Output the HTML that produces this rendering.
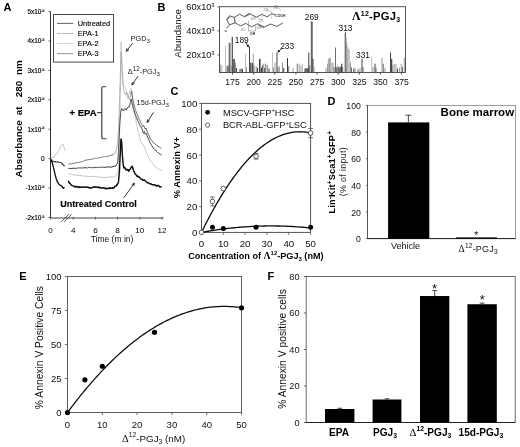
<!DOCTYPE html>
<html><head><meta charset="utf-8"><title>Figure</title>
<style>html,body{margin:0;padding:0;background:#fff;}svg{display:block;font-family:"Liberation Sans",sans-serif;}text{font-family:"Liberation Sans",sans-serif;}</style></head><body>
<svg width="520" height="447" viewBox="0 0 520 447">
<rect x="0" y="0" width="520" height="447" fill="#fff"/>
<defs><filter id="soft" x="-2%" y="-2%" width="104%" height="104%"><feGaussianBlur stdDeviation="0.32"/></filter></defs>
<g id="fig" filter="url(#soft)">
<g id="panelA">
<text x="3.4" y="11" font-size="11" text-anchor="start" font-weight="bold" fill="#000" >A</text>
<line x1="50.5" y1="11.5" x2="50.5" y2="218" stroke="#333" stroke-width="1" />
<line x1="50.5" y1="218" x2="163.5" y2="218" stroke="#444" stroke-width="1" />
<line x1="61.3" y1="221.8" x2="68.9" y2="214.2" stroke="#333" stroke-width="0.8" />
<line x1="64.2" y1="221.8" x2="71.6" y2="214.2" stroke="#333" stroke-width="0.8" />
<line x1="48.5" y1="11.5" x2="50.5" y2="11.5" stroke="#333" stroke-width="0.8" />
<text x="44.6" y="13.9" font-size="6.4" text-anchor="end" font-weight="normal" fill="#000" stroke="#000" stroke-width="0.15">5x10<tspan font-size="3.6" dy="-2.2">-5</tspan></text>
<line x1="48.5" y1="40.93" x2="50.5" y2="40.93" stroke="#333" stroke-width="0.8" />
<text x="44.6" y="43.33" font-size="6.4" text-anchor="end" font-weight="normal" fill="#000" stroke="#000" stroke-width="0.15">4x10<tspan font-size="3.6" dy="-2.2">-5</tspan></text>
<line x1="48.5" y1="70.36" x2="50.5" y2="70.36" stroke="#333" stroke-width="0.8" />
<text x="44.6" y="72.76" font-size="6.4" text-anchor="end" font-weight="normal" fill="#000" stroke="#000" stroke-width="0.15">3x10<tspan font-size="3.6" dy="-2.2">-5</tspan></text>
<line x1="48.5" y1="99.79" x2="50.5" y2="99.79" stroke="#333" stroke-width="0.8" />
<text x="44.6" y="102.19" font-size="6.4" text-anchor="end" font-weight="normal" fill="#000" stroke="#000" stroke-width="0.15">2x10<tspan font-size="3.6" dy="-2.2">-5</tspan></text>
<line x1="48.5" y1="129.22" x2="50.5" y2="129.22" stroke="#333" stroke-width="0.8" />
<text x="44.6" y="131.62" font-size="6.4" text-anchor="end" font-weight="normal" fill="#000" stroke="#000" stroke-width="0.15">1x10<tspan font-size="3.6" dy="-2.2">-5</tspan></text>
<line x1="48.5" y1="158.65" x2="50.5" y2="158.65" stroke="#333" stroke-width="0.8" />
<text x="44.6" y="161.05" font-size="6.4" text-anchor="end" font-weight="normal" fill="#000" stroke="#000" stroke-width="0.15">0</text>
<line x1="48.5" y1="188.08" x2="50.5" y2="188.08" stroke="#333" stroke-width="0.8" />
<text x="44.6" y="190.48" font-size="6.4" text-anchor="end" font-weight="normal" fill="#000" stroke="#000" stroke-width="0.15">-1x10<tspan font-size="3.6" dy="-2.2">-5</tspan></text>
<line x1="48.5" y1="217.51" x2="50.5" y2="217.51" stroke="#333" stroke-width="0.8" />
<text x="44.6" y="219.91" font-size="6.4" text-anchor="end" font-weight="normal" fill="#000" stroke="#000" stroke-width="0.15">-2x10<tspan font-size="3.6" dy="-2.2">-5</tspan></text>
<line x1="50.6" y1="216.8" x2="50.6" y2="219.6" stroke="#444" stroke-width="0.8" />
<text x="50.6" y="232.8" font-size="8.1" text-anchor="middle" font-weight="normal" fill="#000" >0</text>
<line x1="73.2" y1="216.8" x2="73.2" y2="219.6" stroke="#444" stroke-width="0.8" />
<text x="73.2" y="232.8" font-size="8.1" text-anchor="middle" font-weight="normal" fill="#000" >4</text>
<line x1="95.4" y1="216.8" x2="95.4" y2="219.6" stroke="#444" stroke-width="0.8" />
<text x="95.4" y="232.8" font-size="8.1" text-anchor="middle" font-weight="normal" fill="#000" >6</text>
<line x1="117.6" y1="216.8" x2="117.6" y2="219.6" stroke="#444" stroke-width="0.8" />
<text x="117.6" y="232.8" font-size="8.1" text-anchor="middle" font-weight="normal" fill="#000" >8</text>
<line x1="139.8" y1="216.8" x2="139.8" y2="219.6" stroke="#444" stroke-width="0.8" />
<text x="139.8" y="232.8" font-size="8.1" text-anchor="middle" font-weight="normal" fill="#000" >10</text>
<line x1="162" y1="216.8" x2="162" y2="219.6" stroke="#444" stroke-width="0.8" />
<text x="162" y="232.8" font-size="8.1" text-anchor="middle" font-weight="normal" fill="#000" >12</text>
<text x="112" y="242.4" font-size="8.5" text-anchor="middle" font-weight="normal" fill="#111" >Time (m in)</text>
<text transform="translate(22 177.4) rotate(-90)" font-size="9.9" font-weight="bold" fill="#000">Absorbance</text>
<text transform="translate(22 115.3) rotate(-90)" font-size="9.9" font-weight="bold" fill="#000">at</text>
<text transform="translate(22 97.2) rotate(-90)" font-size="9.9" font-weight="bold" fill="#000">280</text>
<text transform="translate(22 75) rotate(-90)" font-size="9.9" font-weight="bold" fill="#000">nm</text>
<rect x="53.5" y="14.5" width="60" height="47.6" fill="#fff" stroke="#484848" stroke-width="1"/>
<line x1="57" y1="23.4" x2="73.3" y2="23.4" stroke="#3a3a3a" stroke-width="0.8" />
<text x="77.7" y="26.1" font-size="7.4" text-anchor="start" font-weight="normal" fill="#000" stroke="#000" stroke-width="0.12">Untreated</text>
<line x1="57" y1="33.47" x2="73.3" y2="33.47" stroke="#a8a8a8" stroke-width="0.8" />
<text x="77.7" y="36.17" font-size="7.4" text-anchor="start" font-weight="normal" fill="#000" stroke="#000" stroke-width="0.12">EPA-1</text>
<line x1="57" y1="43.54" x2="73.3" y2="43.54" stroke="#c8c8c8" stroke-width="0.8" />
<text x="77.7" y="46.24" font-size="7.4" text-anchor="start" font-weight="normal" fill="#000" stroke="#000" stroke-width="0.12">EPA-2</text>
<line x1="57" y1="53.61" x2="73.3" y2="53.61" stroke="#7a7a7a" stroke-width="0.8" />
<text x="77.7" y="56.31" font-size="7.4" text-anchor="start" font-weight="normal" fill="#000" stroke="#000" stroke-width="0.12">EPA-3</text>
<polyline points="51,157.93 52,157.56 53,157.46 54,156.53 55,156.01 55.67,155.08 56.33,154.09 57,153.4 57.5,152.36 58,151.67 58.5,150.68 59,149.84 59.5,148.97 60,148.13 60.5,146.85 61,145.89 61.6,145.35 62.2,144.78 62.8,143.93 63.6,145.49 63.83,146.56 64.07,147.45 64.3,148.54 64.65,149.62 65,150.8" fill="none" stroke="#b4b4b4" stroke-width="0.8" stroke-linejoin="round" />
<polyline points="51,159.25 51.75,160.08 52.5,161.07 54,161.82 55,161.58 56,162.06 57,162 58,161.71 59,162.33 60,162.49 61,162.84 62,163.29 62.75,164.38 63.5,164.95 64.5,166.3" fill="none" stroke="#2c2c2c" stroke-width="1.1" stroke-linejoin="round" />
<polyline points="51,159.85 51.4,160.9 51.8,161.63 52.2,162.45 52.4,163.32 52.6,164.05 52.8,164.69 53,165.52 53.2,166.26 53.4,167.09 53.55,167.74 53.7,168.32 53.85,169.18 54,169.66 54.15,170.42 54.3,171.19 54.45,171.73 54.6,172.5 54.77,173.08 54.95,173.92 55.12,174.63 55.3,175.27 55.48,176.03 55.65,176.58 55.83,177.36 56,178.08 56.25,178.73 56.5,179.3 56.75,180.27 57,181.02 57.25,181.31 57.5,182.13 58,182.42 58.5,183.69 59,184.42 59.75,185.04 60.5,185.26 61,185.33 61.5,185.91 62,186.63 62.43,186.82 62.87,187.87 63.3,188.33 63.9,187.69 64.5,187.4" fill="none" stroke="#0c0c0c" stroke-width="1.3" stroke-linejoin="round" />
<polyline points="68.2,173.78 69.15,174.28 70.1,174.11 71.05,174.32 72,174.55 73,174.9 74,174.62 75,174.91 76,175.07 77,175.35 78,175.43 79,175.57 80,175.39 81,175.6 82,175.7 83,176.1 84,176.28 85,176.01 86,176.16 87,176.33 88,176.47 89,176.58 90,176.62 91,176.44 92,176.29 93,176.49 94,176.45 95,176.53 96,176.84 97,176.82 98,176.85 99,177.01 100,177.15 101,176.95 102,177.49 103,177.54 104,177.56 105,177.49 106,177.26 107,177.24 108,177.06 109,177.3 110,176.98 111,176.96 112,177 113,176.96 114,177.02 114.83,176.51 115.67,176.12 116.5,175.83 116.88,174.8 117.25,173.93 117.62,172.76 118,172.06 118.05,171.1 118.1,170.11 118.15,169.21 118.2,168.31 118.25,167.4 118.3,166.44 118.35,165.64 118.4,164.74 118.45,163.74 118.5,162.83 118.55,161.85 118.6,160.94 118.65,160.06 118.7,159.13 118.75,158.3 118.8,157.28 118.85,156.35 118.9,155.57 118.95,154.59 119,153.61 119.05,152.76 119.1,151.76 119.15,150.92 119.2,150.07 119.22,149.15 119.24,148.21 119.25,147.24 119.27,146.34 119.29,145.4 119.31,144.59 119.33,143.64 119.35,142.77 119.36,141.79 119.38,140.87 119.4,140.05 119.42,139.16 119.44,138.23 119.45,137.32 119.47,136.41 119.49,135.49 119.51,134.5 119.53,133.64 119.55,132.71 119.56,131.75 119.58,130.84 119.6,129.97 119.62,129.05 119.64,128.21 119.65,127.34 119.67,126.36 119.69,125.52 119.71,124.62 119.73,123.7 119.75,122.71 119.76,121.78 119.78,120.87 119.8,119.95 119.82,119.05 119.84,118.2 119.85,117.33 119.87,116.41 119.89,115.45 119.91,114.57 119.93,113.68 119.95,112.66 119.96,111.84 119.98,110.97 120,110.04 120.01,109.13 120.03,108.18 120.04,107.22 120.05,106.41 120.07,105.43 120.08,104.59 120.1,103.71 120.11,102.71 120.12,101.8 120.14,100.98 120.15,100.03 120.16,99.04 120.18,98.13 120.19,97.22 120.2,96.42 120.22,95.5 120.23,94.49 120.25,93.69 120.26,92.8 120.27,91.84 120.29,90.89 120.3,90.01 120.31,89.04 120.33,88.11 120.34,87.34 120.35,86.39 120.37,85.46 120.38,84.61 120.4,83.63 120.41,82.78 120.42,81.87 120.44,80.87 120.45,79.96 120.46,79.06 120.48,78.14 120.49,77.29 120.5,76.33 120.52,75.44 120.53,74.49 120.55,73.7 120.56,72.71 120.57,71.81 120.59,70.92 120.6,70.06 120.62,69.08 120.63,68.26 120.65,67.29 120.66,66.39 120.68,65.49 120.7,64.51 120.71,63.67 120.73,62.73 120.75,61.8 120.76,61.01 120.78,60.02 120.79,59.16 120.81,58.29 120.83,57.36 120.84,56.43 120.86,55.55 120.87,54.65 120.89,53.78 120.91,52.78 120.92,51.94 120.94,50.99 120.95,50.1 120.97,49.27 120.99,48.32 121,47.43 121.02,46.56 121.04,45.67 121.05,44.7 121.07,43.82 121.08,42.9 121.1,42 121.13,42.93 121.16,43.79 121.19,44.7 121.22,45.6 121.25,46.57 121.28,47.43 121.31,48.36 121.34,49.27 121.37,50.06 121.4,51.01 121.43,51.97 121.46,52.85 121.49,53.65 121.52,54.54 121.55,55.49 121.58,56.34 121.61,57.26 121.64,58.14 121.67,59.13 121.7,60.04 121.75,61 121.81,61.83 121.86,62.86 121.91,63.79 121.96,64.65 122.02,65.7 122.07,66.66 122.12,67.49 122.18,68.54 122.23,69.4 122.28,70.35 122.34,71.37 122.39,72.29 122.44,73.13 122.49,74.11 122.55,75.06 122.6,75.98 122.68,76.9 122.76,77.87 122.84,78.88 122.92,79.73 123,80.76 123.08,81.69 123.16,82.58 123.24,83.57 123.32,84.57 123.4,85.51 124.6,86.58 125.6,87.47 125.8,88.36 126,89.31 126.2,90.1 126.4,91.04 126.6,91.93 126.74,92.97 126.89,93.82 127.03,94.73 127.17,95.7 127.31,96.7 127.46,97.62 127.6,98.38 127.9,97.45 128.2,96.96 128.5,95.91 128.8,95.03 129.08,94.04 129.36,93.13 129.64,92.33 129.92,91.39 130.2,90.29 130.75,89.57 131.3,88.22 131.48,89.21 131.66,90.06 131.84,91.13 132.02,91.97 132.2,93.05 132.29,93.94 132.39,94.86 132.48,95.84 132.58,96.84 132.67,97.69 132.77,98.61 132.86,99.62 132.96,100.52 133.05,101.44 133.14,102.39 133.24,103.32 133.33,104.29 133.43,105.25 133.52,106.19 133.62,107.21 133.71,108.08 133.81,109.06 133.9,109.95 134.08,110.89 134.25,111.76 134.43,112.71 134.6,113.59 134.78,114.62 134.95,115.51 135.12,116.37 135.3,117.33 135.47,118.32 135.65,119.11 135.82,120.13 136,120.99 136.19,121.92 136.38,122.9 136.58,123.75 136.77,124.69 136.96,125.64 137.15,126.61 137.35,127.44 137.54,128.43 137.73,129.34 137.92,130.25 138.12,131.14 138.31,132.05 138.5,132.93 138.73,133.83 138.97,134.7 139.2,135.69 139.43,136.5 139.67,137.37 139.9,138.24 140.13,139.23 140.37,140.12 140.6,140.98 140.83,141.8 141.07,142.68 141.3,143.5 142.8,143.98 143.28,144.68 143.75,145.67 144.22,146.43 144.7,147.63 145.03,148.58 145.36,149.31 145.69,150.1 146.01,151.4 146.34,152.02 146.67,152.99 147,153.75 147.43,154.87 147.86,155.84 148.29,156.79 148.71,157.56 149.14,158.65 149.57,159.32 150,160.38 150.57,161.05 151.14,161.96 151.71,162.54 152.29,163.29 152.86,164.19 153.43,164.91 154,165.84 154.8,166.4 155.6,167.09 156.4,167.63 157.2,168.24 158,168.91 158.8,169.24 159.65,169.61 160.5,170.34 161.35,170.32 162.2,170.9" fill="none" stroke="#b9b9b9" stroke-width="0.8" stroke-linejoin="round" />
<polyline points="68.2,164.13 69.15,163.99 70.1,163.53 71.05,163.9 72,163.84 73,163.49 74,163.37 75,163.24 76,162.65 77,162.7 78,162.5 78.88,162.46 79.75,162.21 80.62,161.98 81.5,161.6 82.38,161.55 83.25,161.18 84.12,160.95 85,160.44 86,160.09 87,159.92 88,159.83 89,159.45 90,159.66 91,159.26 92,159.08 92.89,158.92 93.78,158.8 94.67,158.53 95.56,158.08 96.44,158.4 97.33,158.22 98.22,157.91 99.11,157.78 100,157.7 100.89,157.18 101.78,157.43 102.67,156.98 103.56,156.72 104.44,156.68 105.33,156.8 106.22,156.33 107.11,156.5 108,156.49 109,155.9 110,155.53 111,155.29 112,155.11 113,154.86 113.83,154.04 114.67,153.32 115.5,152.5" fill="none" stroke="#6e6e6e" stroke-width="0.9" stroke-linejoin="round" />
<polyline points="115.5,152.42 115.74,151.51 115.99,150.6 116.23,149.76 116.47,148.75 116.71,147.87 116.96,146.84 117.2,145.92 117.27,145.06 117.34,144.23 117.41,143.33 117.48,142.43 117.55,141.46 117.62,140.6 117.69,139.69 117.76,138.79 117.83,137.83 117.9,137.07 117.97,136.05 118.04,135.29 118.11,134.38 118.18,133.31 118.25,132.49 118.32,131.66 118.39,130.78 118.46,129.79 118.53,128.86 118.6,127.95 118.63,127.18 118.66,126.14 118.7,125.3 118.73,124.32 118.76,123.49 118.79,122.66 118.83,121.61 118.86,120.83 118.89,119.87 118.92,119.04 118.95,118.1 118.99,117.11 119.02,116.33 119.05,115.35 119.08,114.37 119.12,113.46 119.15,112.64 119.18,111.73 119.21,110.8 119.25,109.87 119.28,109 119.31,108.1 119.34,107.29 119.37,106.23 119.41,105.46 119.44,104.58 119.47,103.54 119.5,102.79 119.54,101.84 119.57,100.98 119.6,99.96 119.63,99.05 119.66,98.12 119.69,97.3 119.71,96.3 119.74,95.33 119.77,94.42 119.8,93.46 119.83,92.49 119.86,91.57 119.89,90.77 119.91,89.75 119.94,88.94 119.97,87.88 120,86.96 120.03,86.07 120.06,85.09 120.09,84.19 120.11,83.37 120.14,82.43 120.17,81.48 120.2,80.52 120.23,79.65 120.26,78.72 120.29,77.72 120.31,76.83 120.34,75.78 120.37,74.97 120.4,73.99 120.43,73.13 120.47,72.19 120.5,71.21 120.53,70.25 120.57,69.49 120.6,68.43 120.63,67.58 120.67,66.64 120.7,65.71 120.73,64.88 120.77,64 120.8,62.96 120.83,62.11 120.87,61.13 120.9,60.26 120.93,59.31 120.97,58.36 121,57.44 121.03,56.53 121.07,55.74 121.1,54.75 121.13,53.78 121.17,52.99 121.2,52.09 121.25,52.92 121.29,53.8 121.34,54.74 121.39,55.66 121.43,56.64 121.48,57.53 121.53,58.49 121.57,59.42 121.62,60.41 121.67,61.4 121.71,62.31 121.76,63.18 121.81,64.12 121.85,65.07 121.9,65.98 121.95,66.87 121.99,67.72 122.04,68.66 122.08,69.68 122.12,70.43 122.17,71.4 122.22,72.32 122.26,73.27 122.31,74.05 122.35,74.96 122.39,75.85 122.44,76.78 122.48,77.69 122.53,78.68 122.58,79.56 122.62,80.47 122.66,81.21 122.71,82.12 122.75,83.14 122.8,84.07 122.96,84.88 123.11,85.79 123.27,86.58 123.42,87.54 123.58,88.52 123.73,89.39 123.89,90.29 124.04,91.2 124.2,91.85 124.67,92.77 125.13,93.79 125.6,95.01 126.07,94.28 126.53,93.6 127,92.54 127.28,93.43 127.56,94.35 127.84,95.19 128.12,96.11 128.4,96.72 128.8,98.17 129.2,98.84 129.6,100.08 129.77,99.03 129.93,97.96 130.1,96.93 130.27,95.96 130.43,95.02 130.6,94.04 130.87,92.93 131.13,91.92 131.4,91" fill="none" stroke="#9c9c9c" stroke-width="0.8" stroke-linejoin="round" />
<polyline points="131.4,91 131.57,92.01 131.73,92.98 131.9,93.95 132.07,95.02 132.23,95.91 132.4,96.96 132.58,97.89 132.76,98.88 132.94,99.73 133.12,100.67 133.3,101.5 133.48,102.35 133.66,103.25 133.84,104.28 134.02,105.14 134.2,105.88 134.51,106.6 134.82,107.78 135.13,108.77 135.44,109.51 135.76,110.3 136.07,111.43 136.38,112.48 136.69,112.95 137,113.72 137.38,114.78 137.75,115.7 138.12,116.73 138.5,117.32 138.88,118.55 139.25,119.39 139.62,120.13 140,120.82 140.43,122.17 140.87,122.65 141.3,123.84 141.73,124.37 142.17,125.25 142.6,126.46 144,125.56 144.25,126.58 144.5,127.4 144.75,128.24 145,129.03 146,127.95 146.35,129.1 146.7,130.27 147.05,130.79 147.4,131.94 147.77,132.68 148.14,134 148.51,134.36 148.89,135.16 149.26,136.02 149.63,137.08 150,138.24 150.6,139.03 151.2,139.74 151.8,140.7 152.4,141.46 153,141.9 153.8,142.53 154.6,143.7 155.4,144.31 156.2,144.6 157,145.7 157.9,146.09 158.8,146.64 159.7,147.18 160.6,147.64 161.5,148.4" fill="none" stroke="#555" stroke-width="0.95" stroke-linejoin="round" />
<polyline points="68.2,168.3 69.17,168.41 70.14,168.4 71.11,168.7 72.09,168.15 73.06,168.59 74.03,168.08 75,168.11 75.91,168.36 76.82,168.32 77.73,168.05 78.64,167.78 79.55,168 80.45,167.91 81.36,168.2 82.27,167.72 83.18,167.79 84.09,168.07 85,167.52 85.91,167.72 86.82,167.93 87.73,167.88 88.64,167.42 89.55,167.38 90.45,167.37 91.36,167.86 92.27,167.44 93.18,167.7 94.09,167.77 95,167.4 95.91,167.34 96.82,167.72 97.73,167.49 98.64,167.25 99.55,167.49 100.45,167.23 101.36,167.17 102.27,166.98 103.18,167.41 104.09,167.48 105,167.28 106,167.42 107,166.81 108,166.89 109,166.99 110,167.22 111,167.17 112,166.78 113,166.65 114,166.42 115,166.13 116,166.06 116.45,164.66 116.9,164.08 117.35,163.09 117.8,162.06 117.86,161.1 117.91,160.13 117.97,159.14 118.02,158.19 118.08,157.25 118.13,156.38 118.19,155.31 118.24,154.39 118.3,153.55 118.36,152.51 118.41,151.53 118.47,150.58 118.52,149.73 118.58,148.75 118.63,147.92 118.69,146.96 118.74,146.03 118.8,144.96 118.84,143.99 118.89,143.06 118.93,142.2 118.97,141.3 119.02,140.32 119.06,139.34 119.1,138.44 119.15,137.54 119.19,136.62 119.23,135.7 119.28,134.78 119.32,133.81 119.37,132.78 119.41,131.97 119.45,130.94 119.5,130.06 119.54,129.09 119.58,128.22 119.63,127.18 119.67,126.26 119.71,125.32 119.76,124.37 119.8,123.57 119.88,122.58 119.95,121.61 120.03,120.69 120.11,119.87 120.18,118.85 120.26,117.87 120.34,117.04 120.42,116.08 120.49,115.21 120.57,114.12 120.65,113.26 120.72,112.39 120.8,111.46 121.07,110.54 121.33,109.45 121.6,108.48 122.4,109.97 123.3,111.01 123.75,110.38 124.2,109.05 125.2,108.46 125.7,108.92 126.2,110.02 127.2,108.37 127.7,107.36 128.2,106.77 129.2,107.28 129.47,106.2 129.73,105.35 130,104.42 130.2,103.35 130.4,102.38 130.6,101.34 130.9,100.25 131.2,99.16 131.4,100.18 131.6,101.15 131.8,102.03 132,102.95 132.2,103.97 132.43,104.95 132.67,105.78 132.9,106.72 133.13,107.61 133.37,108.64 133.6,109.53 133.9,110.11 134.2,111.01 134.5,112.06 134.8,113.03 135.1,113.96 135.4,114.5 135.7,115.42 136,116.62 136.38,117.32 136.75,118.12 137.12,119.01 137.5,120.27 137.88,120.76 138.25,121.79 138.62,122.54 139,123.45 139.5,124.64 140,125.63 140.5,126.17 141,126.98 141.5,128.22 142,128.82 142.35,129.7 142.7,131.24 143.05,131.95 143.4,133.19 143.9,132.19 144.4,131.57 144.67,132.53 144.93,133.51 145.2,134.31 146.2,133.23 146.55,134.23 146.9,135.35 147.25,135.8 147.6,137.07 148,137.89 148.4,138.94 148.8,139.69 149.2,140.74 149.6,141.85 150,143.06 150.5,143.35 151,144.36 151.5,145.33 152,146.21 152.5,146.54 153,147.28 153.67,148.48 154.33,149.22 155,149.64 155.67,150.1 156.33,151.34 157,151.73 157.75,152.59 158.5,152.97 159.25,153.64 160,153.8 160.75,154.72 161.5,155.1" fill="none" stroke="#333" stroke-width="0.95" stroke-linejoin="round" />
<polyline points="68.2,180.69 68.63,181.56 69.07,182.71 69.5,183.36 70,183.32 70.5,184.02 71,184.89 71.67,185.42 72.33,185.67 73,185.79 73.75,186.07 74.5,186.75 75.25,187.09 76,186.3 76.8,186.97 77.6,187.28 78.4,186.59 79.2,187.57 80,186.88 80.71,187.37 81.43,187.27 82.14,187.31 82.86,186.92 83.57,187 84.29,187.13 85,186.92 85.71,187.3 86.43,187.2 87.14,187.32 87.86,186.99 88.57,187.77 89.29,187.76 90,187.61 90.71,188.09 91.43,188.01 92.14,187.55 92.86,187.15 93.57,187.37 94.29,186.87 95,186.79 95.71,187.2 96.43,186.89 97.14,187.35 97.86,187.5 98.57,187.05 99.29,187.78 100,187.24 100.71,188.04 101.43,188.18 102.14,187.97 102.86,187.55 103.57,188.13 104.29,188.08 105,188.8 105.71,187.86 106.43,188.61 107.14,188.72 107.86,188.38 108.57,188.43 109.29,187.71 110,188.53 110.7,187.93 111.4,188.38 112.1,188.28 112.8,187.39 113.5,188.02 114.22,187.7 114.95,186.27 115.68,186.11 116.4,186.08 116.8,184.76 117.2,184.92 117.6,183.57 118,183.51 118.4,182.38 118.47,181.8 118.53,181.24 118.6,180.3 118.67,179.62 118.73,179 118.8,178.24 118.87,177.45 118.93,176.8 119,176.09 119.07,175.64 119.13,174.86 119.2,174.23 119.27,173.29 119.33,172.79 119.4,171.87 119.43,171.29 119.46,170.6 119.5,169.79 119.53,169.24 119.56,168.42 119.59,167.71 119.62,167.09 119.66,166.11 119.69,165.68 119.72,164.84 119.75,164.05 119.78,163.46 119.82,162.56 119.85,162.08 119.88,161.23 119.91,160.43 119.94,159.85 119.98,159.02 120.01,158.21 120.04,157.68 120.07,156.73 120.1,156.27 120.14,155.36 120.17,154.77 120.2,154.16 120.24,153.31 120.28,152.63 120.31,151.8 120.35,150.98 120.39,150.27 120.43,149.6 120.47,149.04 120.5,148.26 120.54,147.58 120.58,146.99 120.62,146.02 120.66,145.34 120.7,144.76 120.73,143.84 120.77,143.12 120.81,142.52 120.85,141.73 120.89,141.1 120.92,140.34 120.96,139.74 121,139.03 121.3,139.9 121.6,141.04 121.64,141.71 121.68,142.32 121.72,143.31 121.76,143.8 121.79,144.5 121.83,145.2 121.87,146.1 121.91,146.9 121.95,147.59 121.99,148.19 122.03,148.87 122.07,149.51 122.11,150.44 122.14,151.13 122.18,151.78 122.22,152.6 122.26,153.26 122.3,154.14 122.36,154.83 122.42,155.42 122.47,156.38 122.53,156.85 122.59,157.76 122.65,158.47 122.71,159.16 122.77,159.85 122.83,160.84 122.88,161.34 122.94,162.27 123,163.15 123.13,163.63 123.27,164.4 123.4,165.29 123.53,166 123.67,166.8 123.8,167.84 124.8,167.44 125.17,168.39 125.53,169.18 125.9,169.7 126.45,170.03 127,169.31 127.53,169.87 128.07,169.72 128.6,171.28 129.07,170.59 129.55,169.71 130.03,169.44 130.5,168.55 131.07,167.63 131.63,166.83 132.2,166.31 132.45,166.82 132.7,167.87 132.95,169.05 133.2,169.71 133.5,170.55 133.8,171.08 134.1,171.26 134.4,172.24 134.7,172.79 135,173.85 135.3,174.23 135.84,174.42 136.38,175.32 136.92,176.15 137.46,175.81 138,177.02 138.6,176.47 139.2,177.14 139.8,177.51 140.4,178.47 141,179.09 141.62,179.32 142.25,179.31 142.88,180.37 143.5,180.21 144.25,180.01 145,180.65 145.5,180.88 146,181.48 146.5,181.98 147.33,182.73 148.17,182.57 149,183.37 149.78,183.57 150.55,184.09 151.32,183.98 152.1,184.65 152.88,184.72 153.66,184.67 154.44,184.8 155.22,185.49 156,185.14 156.75,186.2 157.5,185.51 158.25,185.53 159,185.77 159.83,187.01 160.67,186.7 161.5,187.2" fill="none" stroke="#080808" stroke-width="1.4" stroke-linejoin="round" />
<text x="130.6" y="41" font-size="7.3" text-anchor="start" font-weight="normal" fill="#222" >PGD<tspan font-size="6.2" dy="1.6">3</tspan><tspan dy="-1.6">&#8203;</tspan></text>
<line x1="132.6" y1="43.2" x2="126.3" y2="51.3" stroke="#262626" stroke-width="0.9" />
<line x1="126.3" y1="51.3" x2="126.93" y2="48.37" stroke="#262626" stroke-width="0.9" />
<line x1="126.3" y1="51.3" x2="128.99" y2="49.97" stroke="#262626" stroke-width="0.9" />
<text x="127.8" y="74.2" font-size="7.3" text-anchor="start" font-weight="normal" fill="#222" >&#916;<tspan font-size="6.4" dy="-3.2">12</tspan><tspan dy="3.2">&#8203;</tspan>-PGJ<tspan font-size="6.2" dy="1.6">3</tspan><tspan dy="-1.6">&#8203;</tspan></text>
<line x1="138" y1="76" x2="131.9" y2="85" stroke="#262626" stroke-width="0.9" />
<line x1="131.9" y1="85" x2="132.34" y2="82.03" stroke="#262626" stroke-width="0.9" />
<line x1="131.9" y1="85" x2="134.5" y2="83.5" stroke="#262626" stroke-width="0.9" />
<text x="136.6" y="105.2" font-size="7.3" text-anchor="start" font-weight="normal" fill="#222" >15d-PGJ<tspan font-size="6.2" dy="1.6">3</tspan><tspan dy="-1.6">&#8203;</tspan></text>
<line x1="153.5" y1="112.4" x2="147.1" y2="122.5" stroke="#262626" stroke-width="0.9" />
<line x1="147.1" y1="122.5" x2="147.44" y2="119.52" stroke="#262626" stroke-width="0.9" />
<line x1="147.1" y1="122.5" x2="149.65" y2="120.92" stroke="#262626" stroke-width="0.9" />
<text x="69.6" y="116.2" font-size="9.5" text-anchor="start" font-weight="bold" fill="#000" stroke="#000" stroke-width="0.2">+ EPA</text>
<path d="M106.2,86.7 L103,86.7 Q101.8,86.7 101.8,88 L101.8,137.4 Q101.8,138.7 103,138.7 L106.4,138.7" fill="none" stroke="#3c3c3c" stroke-width="1.15"/>
<line x1="97.2" y1="112.6" x2="101.8" y2="112.6" stroke="#3c3c3c" stroke-width="1.15" />
<text x="60.3" y="206.6" font-size="9" text-anchor="start" font-weight="bold" fill="#000" stroke="#000" stroke-width="0.15">Untreated Control</text>
<line x1="123.8" y1="197.8" x2="134.4" y2="183.2" stroke="#262626" stroke-width="0.9" />
<line x1="134.4" y1="183.2" x2="133.87" y2="186.15" stroke="#262626" stroke-width="0.9" />
<line x1="134.4" y1="183.2" x2="131.76" y2="184.62" stroke="#262626" stroke-width="0.9" />
</g>
<g id="panelB">
<text x="157.5" y="11" font-size="11" text-anchor="start" font-weight="bold" fill="#000" >B</text>
<text transform="translate(181.4 33.5) rotate(-90)" font-size="9.6" text-anchor="middle" font-weight="normal" fill="#111" >Abundance</text>
<text x="214.6" y="10.1" font-size="9.2" text-anchor="end" font-weight="normal" fill="#111" >60x10<tspan font-size="5.8" dy="-3.2">3</tspan></text>
<line x1="217.5" y1="6.8" x2="219.5" y2="6.8" stroke="#333" stroke-width="0.8" />
<text x="214.6" y="34.1" font-size="9.2" text-anchor="end" font-weight="normal" fill="#111" >40x10<tspan font-size="5.8" dy="-3.2">3</tspan></text>
<line x1="217.5" y1="30.8" x2="219.5" y2="30.8" stroke="#333" stroke-width="0.8" />
<text x="214.6" y="58.2" font-size="9.2" text-anchor="end" font-weight="normal" fill="#111" >20x10<tspan font-size="5.8" dy="-3.2">3</tspan></text>
<line x1="217.5" y1="54.9" x2="219.5" y2="54.9" stroke="#333" stroke-width="0.8" />
<line x1="220.75" y1="64.5" x2="220.75" y2="72.5" stroke="#8a8a8a" stroke-width="0.9" />
<line x1="222" y1="65.5" x2="222" y2="72.5" stroke="#b8b8b8" stroke-width="0.9" />
<line x1="225.5" y1="46.25" x2="225.5" y2="72.5" stroke="#b8b8b8" stroke-width="0.9" />
<line x1="227" y1="66.25" x2="227" y2="72.5" stroke="#5e5e5e" stroke-width="0.9" />
<line x1="228" y1="65.5" x2="228" y2="72.5" stroke="#2a2a2a" stroke-width="0.9" />
<line x1="229.25" y1="43" x2="229.25" y2="72.5" stroke="#2a2a2a" stroke-width="0.9" />
<line x1="230" y1="42.5" x2="230" y2="72.5" stroke="#5e5e5e" stroke-width="0.9" />
<line x1="231" y1="65.5" x2="231" y2="72.5" stroke="#8a8a8a" stroke-width="0.9" />
<line x1="232.25" y1="36.75" x2="232.25" y2="72.5" stroke="#111" stroke-width="0.9" />
<line x1="233.25" y1="59" x2="233.25" y2="72.5" stroke="#2a2a2a" stroke-width="0.9" />
<line x1="234" y1="65.5" x2="234" y2="72.5" stroke="#5e5e5e" stroke-width="0.9" />
<line x1="234.5" y1="58.75" x2="234.5" y2="72.5" stroke="#5e5e5e" stroke-width="0.9" />
<line x1="235.5" y1="62.5" x2="235.5" y2="72.5" stroke="#8a8a8a" stroke-width="0.9" />
<line x1="236.5" y1="68" x2="236.5" y2="72.5" stroke="#2a2a2a" stroke-width="0.9" />
<line x1="240" y1="69" x2="240" y2="72.5" stroke="#2a2a2a" stroke-width="0.9" />
<line x1="241.25" y1="68.5" x2="241.25" y2="72.5" stroke="#5e5e5e" stroke-width="0.9" />
<line x1="242.5" y1="69" x2="242.5" y2="72.5" stroke="#2a2a2a" stroke-width="0.9" />
<line x1="245.5" y1="53.75" x2="245.5" y2="72.5" stroke="#b8b8b8" stroke-width="0.9" />
<line x1="246.5" y1="67" x2="246.5" y2="72.5" stroke="#8a8a8a" stroke-width="0.9" />
<line x1="249.5" y1="46.5" x2="249.5" y2="72.5" stroke="#2a2a2a" stroke-width="0.9" />
<line x1="250.25" y1="63" x2="250.25" y2="72.5" stroke="#5e5e5e" stroke-width="0.9" />
<line x1="251" y1="62.5" x2="251" y2="72.5" stroke="#2a2a2a" stroke-width="0.9" />
<line x1="251.75" y1="64" x2="251.75" y2="72.5" stroke="#8a8a8a" stroke-width="0.9" />
<line x1="252.5" y1="63" x2="252.5" y2="72.5" stroke="#2a2a2a" stroke-width="0.9" />
<line x1="253.25" y1="53.75" x2="253.25" y2="72.5" stroke="#8a8a8a" stroke-width="0.9" />
<line x1="254" y1="65.5" x2="254" y2="72.5" stroke="#5e5e5e" stroke-width="0.9" />
<line x1="256.25" y1="66.25" x2="256.25" y2="72.5" stroke="#8a8a8a" stroke-width="0.9" />
<line x1="257.5" y1="68" x2="257.5" y2="72.5" stroke="#2a2a2a" stroke-width="0.9" />
<line x1="259.5" y1="58.75" x2="259.5" y2="72.5" stroke="#2a2a2a" stroke-width="0.9" />
<line x1="260.5" y1="59" x2="260.5" y2="72.5" stroke="#8a8a8a" stroke-width="0.9" />
<line x1="261.5" y1="67.5" x2="261.5" y2="72.5" stroke="#2a2a2a" stroke-width="0.9" />
<line x1="262.5" y1="65" x2="262.5" y2="72.5" stroke="#5e5e5e" stroke-width="0.9" />
<line x1="263.75" y1="63.75" x2="263.75" y2="72.5" stroke="#8a8a8a" stroke-width="0.9" />
<line x1="264.75" y1="68" x2="264.75" y2="72.5" stroke="#2a2a2a" stroke-width="0.9" />
<line x1="265.75" y1="63.75" x2="265.75" y2="72.5" stroke="#5e5e5e" stroke-width="0.9" />
<line x1="267.5" y1="65" x2="267.5" y2="72.5" stroke="#8a8a8a" stroke-width="0.9" />
<line x1="269" y1="68.5" x2="269" y2="72.5" stroke="#2a2a2a" stroke-width="0.9" />
<line x1="272.5" y1="52.5" x2="272.5" y2="72.5" stroke="#b8b8b8" stroke-width="0.9" />
<line x1="273.5" y1="67.5" x2="273.5" y2="72.5" stroke="#8a8a8a" stroke-width="0.9" />
<line x1="275" y1="62.5" x2="275" y2="72.5" stroke="#8a8a8a" stroke-width="0.9" />
<line x1="277" y1="52.5" x2="277" y2="72.5" stroke="#2a2a2a" stroke-width="0.9" />
<line x1="278" y1="67" x2="278" y2="72.5" stroke="#5e5e5e" stroke-width="0.9" />
<line x1="279.25" y1="66.25" x2="279.25" y2="72.5" stroke="#8a8a8a" stroke-width="0.9" />
<line x1="282.5" y1="62.5" x2="282.5" y2="72.5" stroke="#8a8a8a" stroke-width="0.9" />
<line x1="283.75" y1="68" x2="283.75" y2="72.5" stroke="#2a2a2a" stroke-width="0.9" />
<line x1="287.5" y1="58.75" x2="287.5" y2="72.5" stroke="#b8b8b8" stroke-width="0.9" />
<line x1="288.75" y1="66.25" x2="288.75" y2="72.5" stroke="#5e5e5e" stroke-width="0.9" />
<line x1="293" y1="68" x2="293" y2="72.5" stroke="#8a8a8a" stroke-width="0.9" />
<line x1="297.5" y1="63.75" x2="297.5" y2="72.5" stroke="#2a2a2a" stroke-width="0.9" />
<line x1="282.5" y1="63.75" x2="282.5" y2="72.5" stroke="#8a8a8a" stroke-width="0.9" />
<line x1="287.5" y1="58" x2="287.5" y2="72.5" stroke="#2a2a2a" stroke-width="0.9" />
<line x1="297" y1="63.75" x2="297" y2="72.5" stroke="#b8b8b8" stroke-width="0.9" />
<line x1="298" y1="64" x2="298" y2="72.5" stroke="#b8b8b8" stroke-width="0.9" />
<line x1="299.5" y1="63.75" x2="299.5" y2="72.5" stroke="#b8b8b8" stroke-width="0.9" />
<line x1="301" y1="65.5" x2="301" y2="72.5" stroke="#8a8a8a" stroke-width="0.9" />
<line x1="302.5" y1="63.75" x2="302.5" y2="72.5" stroke="#b8b8b8" stroke-width="0.9" />
<line x1="305" y1="68.75" x2="305" y2="72.5" stroke="#2a2a2a" stroke-width="0.9" />
<line x1="306" y1="68" x2="306" y2="72.5" stroke="#111" stroke-width="0.9" />
<line x1="307" y1="68.75" x2="307" y2="72.5" stroke="#2a2a2a" stroke-width="0.9" />
<line x1="308" y1="68" x2="308" y2="72.5" stroke="#111" stroke-width="0.9" />
<line x1="308.75" y1="52.5" x2="308.75" y2="72.5" stroke="#2a2a2a" stroke-width="0.9" />
<line x1="309.75" y1="65.5" x2="309.75" y2="72.5" stroke="#5e5e5e" stroke-width="0.9" />
<line x1="311.25" y1="22" x2="311.25" y2="72.5" stroke="#6a6a6a" stroke-width="0.9" />
<line x1="311.75" y1="21.25" x2="311.75" y2="72.5" stroke="#4a4a4a" stroke-width="0.9" />
<line x1="312.25" y1="22" x2="312.25" y2="72.5" stroke="#6a6a6a" stroke-width="0.9" />
<line x1="313" y1="58.75" x2="313" y2="72.5" stroke="#2a2a2a" stroke-width="0.9" />
<line x1="314" y1="67" x2="314" y2="72.5" stroke="#8a8a8a" stroke-width="0.9" />
<line x1="326" y1="68" x2="326" y2="72.5" stroke="#8a8a8a" stroke-width="0.9" />
<line x1="327.5" y1="63.75" x2="327.5" y2="72.5" stroke="#8a8a8a" stroke-width="0.9" />
<line x1="328.25" y1="60" x2="328.25" y2="72.5" stroke="#b8b8b8" stroke-width="0.9" />
<line x1="329" y1="58" x2="329" y2="72.5" stroke="#8a8a8a" stroke-width="0.9" />
<line x1="330" y1="58" x2="330" y2="72.5" stroke="#5e5e5e" stroke-width="0.9" />
<line x1="331" y1="64.5" x2="331" y2="72.5" stroke="#b8b8b8" stroke-width="0.9" />
<line x1="331.75" y1="62.5" x2="331.75" y2="72.5" stroke="#b8b8b8" stroke-width="0.9" />
<line x1="333" y1="62.5" x2="333" y2="72.5" stroke="#8a8a8a" stroke-width="0.9" />
<line x1="334" y1="67" x2="334" y2="72.5" stroke="#5e5e5e" stroke-width="0.9" />
<line x1="335.5" y1="47.5" x2="335.5" y2="72.5" stroke="#5e5e5e" stroke-width="0.9" />
<line x1="336.25" y1="67.5" x2="336.25" y2="72.5" stroke="#2a2a2a" stroke-width="0.9" />
<line x1="337.25" y1="65.5" x2="337.25" y2="72.5" stroke="#8a8a8a" stroke-width="0.9" />
<line x1="338.25" y1="67" x2="338.25" y2="72.5" stroke="#2a2a2a" stroke-width="0.9" />
<line x1="339.25" y1="67.5" x2="339.25" y2="72.5" stroke="#5e5e5e" stroke-width="0.9" />
<line x1="340.25" y1="66.5" x2="340.25" y2="72.5" stroke="#2a2a2a" stroke-width="0.9" />
<line x1="341.25" y1="67.5" x2="341.25" y2="72.5" stroke="#5e5e5e" stroke-width="0.9" />
<line x1="341.75" y1="63.75" x2="341.75" y2="72.5" stroke="#111" stroke-width="0.9" />
<line x1="342.75" y1="67" x2="342.75" y2="72.5" stroke="#5e5e5e" stroke-width="0.9" />
<line x1="345" y1="33" x2="345" y2="72.5" stroke="#8a8a8a" stroke-width="0.9" />
<line x1="345.5" y1="31.75" x2="345.5" y2="72.5" stroke="#5e5e5e" stroke-width="0.9" />
<line x1="346" y1="37.5" x2="346" y2="72.5" stroke="#8a8a8a" stroke-width="0.9" />
<line x1="346.75" y1="42.5" x2="346.75" y2="72.5" stroke="#8a8a8a" stroke-width="0.9" />
<line x1="347.5" y1="47" x2="347.5" y2="72.5" stroke="#b8b8b8" stroke-width="0.9" />
<line x1="348" y1="48.75" x2="348" y2="72.5" stroke="#b8b8b8" stroke-width="0.9" />
<line x1="348.75" y1="50" x2="348.75" y2="72.5" stroke="#b8b8b8" stroke-width="0.9" />
<line x1="349.25" y1="48.75" x2="349.25" y2="72.5" stroke="#b8b8b8" stroke-width="0.9" />
<line x1="350.5" y1="62.5" x2="350.5" y2="72.5" stroke="#8a8a8a" stroke-width="0.9" />
<line x1="351.5" y1="67.5" x2="351.5" y2="72.5" stroke="#5e5e5e" stroke-width="0.9" />
<line x1="353.75" y1="68.75" x2="353.75" y2="72.5" stroke="#2a2a2a" stroke-width="0.9" />
<line x1="355" y1="67.5" x2="355" y2="72.5" stroke="#8a8a8a" stroke-width="0.9" />
<line x1="358" y1="69.5" x2="358" y2="72.5" stroke="#2a2a2a" stroke-width="0.9" />
<line x1="360" y1="68" x2="360" y2="72.5" stroke="#8a8a8a" stroke-width="0.9" />
<line x1="362" y1="58.75" x2="362" y2="72.5" stroke="#2a2a2a" stroke-width="0.9" />
<line x1="363" y1="67" x2="363" y2="72.5" stroke="#5e5e5e" stroke-width="0.9" />
<line x1="371.75" y1="58" x2="371.75" y2="72.5" stroke="#b8b8b8" stroke-width="0.9" />
<line x1="373" y1="67" x2="373" y2="72.5" stroke="#8a8a8a" stroke-width="0.9" />
<line x1="375" y1="63.75" x2="375" y2="72.5" stroke="#2a2a2a" stroke-width="0.9" />
<line x1="376" y1="67.5" x2="376" y2="72.5" stroke="#5e5e5e" stroke-width="0.9" />
<line x1="382" y1="58" x2="382" y2="72.5" stroke="#8a8a8a" stroke-width="0.9" />
<line x1="383.25" y1="63.75" x2="383.25" y2="72.5" stroke="#5e5e5e" stroke-width="0.9" />
<line x1="385" y1="68" x2="385" y2="72.5" stroke="#8a8a8a" stroke-width="0.9" />
<line x1="390.5" y1="52.5" x2="390.5" y2="72.5" stroke="#2a2a2a" stroke-width="0.9" />
<line x1="391.25" y1="60" x2="391.25" y2="72.5" stroke="#5e5e5e" stroke-width="0.9" />
<line x1="391.75" y1="58.75" x2="391.75" y2="72.5" stroke="#2a2a2a" stroke-width="0.9" />
<line x1="392.75" y1="65.5" x2="392.75" y2="72.5" stroke="#8a8a8a" stroke-width="0.9" />
<line x1="393.75" y1="63.75" x2="393.75" y2="72.5" stroke="#b8b8b8" stroke-width="0.9" />
<line x1="394.5" y1="64" x2="394.5" y2="72.5" stroke="#b8b8b8" stroke-width="0.9" />
<line x1="395.25" y1="63.75" x2="395.25" y2="72.5" stroke="#b8b8b8" stroke-width="0.9" />
<line x1="396.25" y1="64" x2="396.25" y2="72.5" stroke="#b8b8b8" stroke-width="0.9" />
<line x1="397.5" y1="68.75" x2="397.5" y2="72.5" stroke="#2a2a2a" stroke-width="0.9" />
<line x1="399.5" y1="68" x2="399.5" y2="72.5" stroke="#8a8a8a" stroke-width="0.9" />
<line x1="401.25" y1="63.75" x2="401.25" y2="72.5" stroke="#8a8a8a" stroke-width="0.9" />
<line x1="402.5" y1="67" x2="402.5" y2="72.5" stroke="#5e5e5e" stroke-width="0.9" />
<line x1="404.25" y1="58" x2="404.25" y2="72.5" stroke="#8a8a8a" stroke-width="0.9" />
<rect x="219.5" y="6.7" width="186" height="65.8" fill="none" stroke="#4a4a4a" stroke-width="0.95"/>
<line x1="232.5" y1="72.5" x2="232.5" y2="74.7" stroke="#333" stroke-width="0.8" />
<text x="232.5" y="85.2" font-size="8.6" text-anchor="middle" font-weight="normal" fill="#111" >175</text>
<line x1="253.64" y1="72.5" x2="253.64" y2="74.7" stroke="#333" stroke-width="0.8" />
<text x="253.64" y="85.2" font-size="8.6" text-anchor="middle" font-weight="normal" fill="#111" >200</text>
<line x1="274.77" y1="72.5" x2="274.77" y2="74.7" stroke="#333" stroke-width="0.8" />
<text x="274.77" y="85.2" font-size="8.6" text-anchor="middle" font-weight="normal" fill="#111" >225</text>
<line x1="295.91" y1="72.5" x2="295.91" y2="74.7" stroke="#333" stroke-width="0.8" />
<text x="295.91" y="85.2" font-size="8.6" text-anchor="middle" font-weight="normal" fill="#111" >250</text>
<line x1="317.05" y1="72.5" x2="317.05" y2="74.7" stroke="#333" stroke-width="0.8" />
<text x="317.05" y="85.2" font-size="8.6" text-anchor="middle" font-weight="normal" fill="#111" >275</text>
<line x1="338.19" y1="72.5" x2="338.19" y2="74.7" stroke="#333" stroke-width="0.8" />
<text x="338.19" y="85.2" font-size="8.6" text-anchor="middle" font-weight="normal" fill="#111" >300</text>
<line x1="359.32" y1="72.5" x2="359.32" y2="74.7" stroke="#333" stroke-width="0.8" />
<text x="359.32" y="85.2" font-size="8.6" text-anchor="middle" font-weight="normal" fill="#111" >325</text>
<line x1="380.46" y1="72.5" x2="380.46" y2="74.7" stroke="#333" stroke-width="0.8" />
<text x="380.46" y="85.2" font-size="8.6" text-anchor="middle" font-weight="normal" fill="#111" >350</text>
<line x1="401.6" y1="72.5" x2="401.6" y2="74.7" stroke="#333" stroke-width="0.8" />
<text x="401.6" y="85.2" font-size="8.6" text-anchor="middle" font-weight="normal" fill="#111" >375</text>
<text x="241.8" y="43" font-size="8.4" text-anchor="middle" font-weight="normal" fill="#111" >189</text>
<text x="287.2" y="48.8" font-size="8.4" text-anchor="middle" font-weight="normal" fill="#111" >233</text>
<text x="311.8" y="20" font-size="8.4" text-anchor="middle" font-weight="normal" fill="#111" >269</text>
<text x="345.5" y="31.3" font-size="8.4" text-anchor="middle" font-weight="normal" fill="#111" >313</text>
<text x="363" y="57.5" font-size="8.4" text-anchor="middle" font-weight="normal" fill="#111" >331</text>
<line x1="245.6" y1="42" x2="248.4" y2="46.6" stroke="#111" stroke-width="0.8" />
<path d="M248.9,47.4 l-2.6,-1.4 l2.2,-1.4 z" fill="#111"/>
<line x1="282.2" y1="48" x2="278.2" y2="51.8" stroke="#111" stroke-width="0.8" />
<path d="M277.4,52.6 l0.9,-2.9 l1.9,2 z" fill="#111"/>
<text x="351.9" y="19.8" font-size="11.2" text-anchor="start" font-weight="bold" fill="#000" letter-spacing="0.25"><tspan font-family="Liberation Serif" font-size="12">&#923;</tspan><tspan font-size="7" dy="-4.2">12</tspan><tspan dy="4.2">&#8203;</tspan>-PGJ<tspan font-size="7" dy="2.2">3</tspan><tspan dy="-2.2">&#8203;</tspan></text>
<polyline points="226.5,19.7 229.6,15.8 234.2,17.4 235,22.8 229.6,24.8 226.5,19.7" fill="none" stroke="#3c3c3c" stroke-width="0.85" stroke-linejoin="round" />
<line x1="227.6" y1="19.6" x2="230" y2="16.8" stroke="#3c3c3c" stroke-width="0.7" />
<line x1="229.6" y1="24.8" x2="226.2" y2="28.6" stroke="#3c3c3c" stroke-width="0.85" />
<text x="224.4" y="31.6" font-size="3.8" text-anchor="start" font-weight="bold" fill="#333" >o</text>
<polyline points="234.2,17.4 239.5,14.2 244.5,16.8 250.2,14 256.5,17.2 261.8,14.4 267.2,16.8 271.6,13.6 275.5,15" fill="none" stroke="#3c3c3c" stroke-width="0.85" stroke-linejoin="round" />
<line x1="245" y1="15.8" x2="250" y2="13.2" stroke="#3c3c3c" stroke-width="0.7" />
<polyline points="235,22.8 240.6,25.8 245.8,23.4 251.5,26.8 257.5,23.8 264.5,27 270.5,24 276.8,26.4 282.8,23" fill="none" stroke="#3c3c3c" stroke-width="0.85" stroke-linejoin="round" />
<line x1="258.2" y1="25.2" x2="264" y2="28" stroke="#3c3c3c" stroke-width="0.7" />
<text x="275.2" y="16.8" font-size="3.4" text-anchor="start" font-weight="bold" fill="#222" >COOH</text>
<text x="250" y="35" font-size="3.4" text-anchor="start" font-weight="bold" fill="#222" >OH</text>
<polyline points="248.5,21 248.5,31 255.5,31 255.5,26" fill="none" stroke="#777" stroke-width="0.5" stroke-linejoin="round" />
<polyline points="257,18 262,20 262,12" fill="none" stroke="#999" stroke-width="0.4" stroke-linejoin="round" />
<polyline points="266,11 271.5,11 271.5,19" fill="none" stroke="#999" stroke-width="0.4" stroke-linejoin="round" />
<polyline points="273.5,8.5 279.5,8.5 281,11" fill="none" stroke="#999" stroke-width="0.4" stroke-linejoin="round" />
<text x="263.6" y="11" font-size="2.8" text-anchor="start" font-weight="normal" fill="#777" >233</text>
<text x="274" y="8.2" font-size="2.8" text-anchor="start" font-weight="normal" fill="#777" >331</text>
<text x="250.8" y="20.4" font-size="2.8" text-anchor="start" font-weight="normal" fill="#777" >189</text>
<text x="258.4" y="22.4" font-size="2.8" text-anchor="start" font-weight="normal" fill="#777" >175</text>
<text x="240.5" y="31.4" font-size="2.8" text-anchor="start" font-weight="normal" fill="#777" >313</text>
<text x="256.6" y="29.4" font-size="2.8" text-anchor="start" font-weight="normal" fill="#777" >269</text>
</g>
<g id="panelC">
<text x="170.4" y="95.3" font-size="11" text-anchor="start" font-weight="bold" fill="#000" >C</text>
<rect x="201.5" y="103.4" width="109.1" height="129" fill="none" stroke="#4c4c4c" stroke-width="0.95"/>
<line x1="199.1" y1="232.4" x2="201.5" y2="232.4" stroke="#4c4c4c" stroke-width="0.8" />
<text x="197.4" y="236" font-size="9.7" text-anchor="end" font-weight="normal" fill="#111" >0</text>
<line x1="199.1" y1="206.6" x2="201.5" y2="206.6" stroke="#4c4c4c" stroke-width="0.8" />
<text x="197.4" y="210.2" font-size="9.7" text-anchor="end" font-weight="normal" fill="#111" >20</text>
<line x1="199.1" y1="180.8" x2="201.5" y2="180.8" stroke="#4c4c4c" stroke-width="0.8" />
<text x="197.4" y="184.4" font-size="9.7" text-anchor="end" font-weight="normal" fill="#111" >40</text>
<line x1="199.1" y1="155" x2="201.5" y2="155" stroke="#4c4c4c" stroke-width="0.8" />
<text x="197.4" y="158.6" font-size="9.7" text-anchor="end" font-weight="normal" fill="#111" >60</text>
<line x1="199.1" y1="129.2" x2="201.5" y2="129.2" stroke="#4c4c4c" stroke-width="0.8" />
<text x="197.4" y="132.8" font-size="9.7" text-anchor="end" font-weight="normal" fill="#111" >80</text>
<line x1="199.1" y1="103.4" x2="201.5" y2="103.4" stroke="#4c4c4c" stroke-width="0.8" />
<text x="197.4" y="107" font-size="9.7" text-anchor="end" font-weight="normal" fill="#111" >100</text>
<line x1="201.5" y1="232.4" x2="201.5" y2="234.8" stroke="#4c4c4c" stroke-width="0.8" />
<text x="201.5" y="246.8" font-size="9.7" text-anchor="middle" font-weight="normal" fill="#111" >0</text>
<line x1="223.32" y1="232.4" x2="223.32" y2="234.8" stroke="#4c4c4c" stroke-width="0.8" />
<text x="223.32" y="246.8" font-size="9.7" text-anchor="middle" font-weight="normal" fill="#111" >10</text>
<line x1="245.14" y1="232.4" x2="245.14" y2="234.8" stroke="#4c4c4c" stroke-width="0.8" />
<text x="245.14" y="246.8" font-size="9.7" text-anchor="middle" font-weight="normal" fill="#111" >20</text>
<line x1="266.96" y1="232.4" x2="266.96" y2="234.8" stroke="#4c4c4c" stroke-width="0.8" />
<text x="266.96" y="246.8" font-size="9.7" text-anchor="middle" font-weight="normal" fill="#111" >30</text>
<line x1="288.78" y1="232.4" x2="288.78" y2="234.8" stroke="#4c4c4c" stroke-width="0.8" />
<text x="288.78" y="246.8" font-size="9.7" text-anchor="middle" font-weight="normal" fill="#111" >40</text>
<line x1="310.6" y1="232.4" x2="310.6" y2="234.8" stroke="#4c4c4c" stroke-width="0.8" />
<text x="310.6" y="246.8" font-size="9.7" text-anchor="middle" font-weight="normal" fill="#111" >50</text>
<text transform="translate(180 167.6) rotate(-90)" font-size="9.3" text-anchor="middle" font-weight="bold" fill="#000" >% Annexin V+</text>
<text x="255.9" y="258.8" font-size="9.1" text-anchor="middle" font-weight="bold" fill="#000" >Concentration of <tspan font-family="Liberation Serif" font-size="9.8">&#923;</tspan><tspan font-size="6" dy="-3.8">12</tspan><tspan dy="3.8">&#8203;</tspan>-PGJ<tspan font-size="6" dy="2">3</tspan><tspan dy="-2">&#8203;</tspan> (nM)</text>
<polyline points="201.5,232.4 202.59,230.18 203.68,227.98 204.77,225.8 205.86,223.65 206.96,221.53 208.05,219.43 209.14,217.36 210.23,215.31 211.32,213.28 212.41,211.28 213.5,209.3 214.59,207.35 215.68,205.43 216.77,203.53 217.87,201.65 218.96,199.8 220.05,197.97 221.14,196.17 222.23,194.4 223.32,192.64 224.41,190.92 225.5,189.22 226.59,187.54 227.68,185.89 228.78,184.26 229.87,182.66 230.96,181.08 232.05,179.53 233.14,178 234.23,176.49 235.32,175.02 236.41,173.56 237.5,172.13 238.59,170.73 239.69,169.35 240.78,168 241.87,166.67 242.96,165.36 244.05,164.08 245.14,162.83 246.23,161.6 247.32,160.39 248.41,159.21 249.5,158.06 250.59,156.93 251.69,155.82 252.78,154.74 253.87,153.68 254.96,152.65 256.05,151.65 257.14,150.66 258.23,149.71 259.32,148.78 260.41,147.87 261.5,146.99 262.6,146.13 263.69,145.3 264.78,144.49 265.87,143.71 266.96,142.95 268.05,142.22 269.14,141.51 270.23,140.82 271.32,140.17 272.42,139.53 273.51,138.92 274.6,138.34 275.69,137.78 276.78,137.25 277.87,136.74 278.96,136.25 280.05,135.79 281.14,135.36 282.23,134.95 283.33,134.56 284.42,134.2 285.51,133.87 286.6,133.55 287.69,133.27 288.78,133.01 289.87,132.77 290.96,132.56 292.05,132.37 293.14,132.21 294.24,132.08 295.33,131.96 296.42,131.88 297.51,131.81 298.6,131.78 299.69,131.76 300.78,131.78 301.87,131.81 302.96,131.88 304.05,131.96 305.15,132.07 306.24,132.21 307.33,132.37 308.42,132.56 309.51,132.77 310.6,133.01" fill="none" stroke="#0a0a0a" stroke-width="1.3" stroke-linejoin="round" />
<polyline points="201.5,232.4 202.59,232.2 203.68,232 204.77,231.81 205.86,231.62 206.96,231.43 208.05,231.25 209.14,231.07 210.23,230.89 211.32,230.71 212.41,230.54 213.5,230.37 214.59,230.21 215.68,230.05 216.77,229.89 217.87,229.73 218.96,229.58 220.05,229.43 221.14,229.28 222.23,229.14 223.32,229 224.41,228.86 225.5,228.73 226.59,228.6 227.68,228.47 228.78,228.34 229.87,228.22 230.96,228.11 232.05,227.99 233.14,227.88 234.23,227.77 235.32,227.66 236.41,227.56 237.5,227.46 238.59,227.37 239.69,227.27 240.78,227.18 241.87,227.1 242.96,227.01 244.05,226.93 245.14,226.86 246.23,226.78 247.32,226.71 248.41,226.64 249.5,226.58 250.59,226.52 251.69,226.46 252.78,226.4 253.87,226.35 254.96,226.3 256.05,226.26 257.14,226.21 258.23,226.17 259.32,226.14 260.41,226.1 261.5,226.07 262.6,226.05 263.69,226.02 264.78,226 265.87,225.99 266.96,225.97 268.05,225.96 269.14,225.95 270.23,225.95 271.32,225.95 272.42,225.95 273.51,225.95 274.6,225.96 275.69,225.97 276.78,225.99 277.87,226 278.96,226.02 280.05,226.05 281.14,226.07 282.23,226.1 283.33,226.14 284.42,226.17 285.51,226.21 286.6,226.25 287.69,226.3 288.78,226.35 289.87,226.4 290.96,226.45 292.05,226.51 293.14,226.57 294.24,226.64 295.33,226.71 296.42,226.78 297.51,226.85 298.6,226.93 299.69,227.01 300.78,227.09 301.87,227.18 302.96,227.27 304.05,227.36 305.15,227.46 306.24,227.55 307.33,227.66 308.42,227.76 309.51,227.87 310.6,227.98" fill="none" stroke="#0a0a0a" stroke-width="1.3" stroke-linejoin="round" />
<line x1="212.41" y1="205.96" x2="212.41" y2="196.93" stroke="#444" stroke-width="0.7" />
<line x1="209.91" y1="205.96" x2="214.91" y2="205.96" stroke="#444" stroke-width="0.7" />
<line x1="209.91" y1="196.93" x2="214.91" y2="196.93" stroke="#444" stroke-width="0.7" />
<line x1="256.05" y1="159.13" x2="256.05" y2="153.45" stroke="#444" stroke-width="0.7" />
<line x1="253.55" y1="159.13" x2="258.55" y2="159.13" stroke="#444" stroke-width="0.7" />
<line x1="253.55" y1="153.45" x2="258.55" y2="153.45" stroke="#444" stroke-width="0.7" />
<line x1="310.6" y1="137.71" x2="310.6" y2="128.43" stroke="#444" stroke-width="0.7" />
<line x1="308.1" y1="137.71" x2="313.1" y2="137.71" stroke="#444" stroke-width="0.7" />
<line x1="308.1" y1="128.43" x2="313.1" y2="128.43" stroke="#444" stroke-width="0.7" />
<circle cx="201.5" cy="232.4" r="2.3" fill="#fff" stroke="#3a3a3a" stroke-width="0.8"/>
<circle cx="212.41" cy="201.44" r="2.3" fill="#fff" stroke="#3a3a3a" stroke-width="0.8"/>
<circle cx="223.32" cy="188.54" r="2.3" fill="#fff" stroke="#3a3a3a" stroke-width="0.8"/>
<circle cx="256.05" cy="156.29" r="2.3" fill="#fff" stroke="#3a3a3a" stroke-width="0.8"/>
<circle cx="310.6" cy="133.07" r="2.3" fill="#fff" stroke="#3a3a3a" stroke-width="0.8"/>
<circle cx="212.41" cy="227.24" r="2.5" fill="#000"/>
<circle cx="223.32" cy="228.53" r="2.5" fill="#000"/>
<circle cx="256.05" cy="227.24" r="2.5" fill="#000"/>
<circle cx="310.6" cy="227.24" r="2.5" fill="#000"/>
<circle cx="207.6" cy="112.3" r="2.4" fill="#000"/>
<circle cx="207.6" cy="125.1" r="2.1" fill="#fff" stroke="#444" stroke-width="0.8"/>
<text x="222.9" y="115.6" font-size="9.3" text-anchor="start" font-weight="normal" fill="#111" >MSCV-GFP<tspan font-size="5.6" dy="-3.6">+</tspan><tspan dy="3.6">&#8203;</tspan>HSC</text>
<text x="222.9" y="128.4" font-size="9.3" text-anchor="start" font-weight="normal" fill="#111" >BCR-ABL-GFP<tspan font-size="5.6" dy="-3.6">+</tspan><tspan dy="3.6">&#8203;</tspan>LSC</text>
</g>
<g id="panelD">
<text x="327.6" y="105" font-size="11" text-anchor="start" font-weight="bold" fill="#000" >D</text>
<rect x="367.5" y="105.4" width="148" height="133.2" fill="none" stroke="#8c8c8c" stroke-width="0.85"/>
<line x1="367.5" y1="105.4" x2="367.5" y2="238.6" stroke="#505050" stroke-width="0.95" />
<line x1="367.5" y1="238.6" x2="515.5" y2="238.6" stroke="#222" stroke-width="1" />
<line x1="365.9" y1="238.6" x2="367.5" y2="238.6" stroke="#444" stroke-width="0.8" />
<text x="360.8" y="242.2" font-size="8.7" text-anchor="end" font-weight="normal" fill="#111" >0</text>
<line x1="365.9" y1="211.96" x2="367.5" y2="211.96" stroke="#444" stroke-width="0.8" />
<text x="360.8" y="215.56" font-size="8.7" text-anchor="end" font-weight="normal" fill="#111" >20</text>
<line x1="365.9" y1="185.32" x2="367.5" y2="185.32" stroke="#444" stroke-width="0.8" />
<text x="360.8" y="188.92" font-size="8.7" text-anchor="end" font-weight="normal" fill="#111" >40</text>
<line x1="365.9" y1="158.68" x2="367.5" y2="158.68" stroke="#444" stroke-width="0.8" />
<text x="360.8" y="162.28" font-size="8.7" text-anchor="end" font-weight="normal" fill="#111" >60</text>
<line x1="365.9" y1="132.04" x2="367.5" y2="132.04" stroke="#444" stroke-width="0.8" />
<text x="360.8" y="135.64" font-size="8.7" text-anchor="end" font-weight="normal" fill="#111" >80</text>
<line x1="365.9" y1="105.4" x2="367.5" y2="105.4" stroke="#444" stroke-width="0.8" />
<text x="360.8" y="109" font-size="8.7" text-anchor="end" font-weight="normal" fill="#111" >100</text>
<rect x="388.1" y="122.4" width="41.2" height="116.2" fill="#000"/>
<line x1="408.4" y1="122.4" x2="408.4" y2="115.2" stroke="#222" stroke-width="0.8" />
<line x1="405.3" y1="115.2" x2="411.4" y2="115.2" stroke="#222" stroke-width="0.8" />
<rect x="456" y="237.4" width="41" height="1.2" fill="#000"/>
<text x="476.2" y="238.6" font-size="10.5" text-anchor="middle" font-weight="normal" fill="#111" >*</text>
<text x="405.4" y="248.7" font-size="9" text-anchor="middle" font-weight="normal" fill="#111" >Vehicle</text>
<text x="478.2" y="252" font-size="9" text-anchor="middle" font-weight="normal" fill="#111" letter-spacing="0.2"><tspan font-family="Liberation Serif" font-size="9.6">&#916;</tspan><tspan font-size="6.6" dy="-4">12</tspan><tspan dy="4">&#8203;</tspan>-PGJ<tspan font-size="6.6" dy="1.8">3</tspan><tspan dy="-1.8">&#8203;</tspan></text>
<text x="440.6" y="116.4" font-size="11.5" text-anchor="start" font-weight="bold" fill="#000" >Bone marrow</text>
<text transform="translate(335.2 172.2) rotate(-90)" font-size="9.2" text-anchor="middle" font-weight="bold" fill="#000" letter-spacing="0.15">Lin<tspan font-size="6.6" dy="-3.2">-</tspan><tspan dy="3.2">&#8203;</tspan>Kit<tspan font-size="6.6" dy="-3.2">+</tspan><tspan dy="3.2">&#8203;</tspan>Sca1<tspan font-size="6.6" dy="-3.2">+</tspan><tspan dy="3.2">&#8203;</tspan>GFP<tspan font-size="6.6" dy="-3.2">+</tspan><tspan dy="3.2">&#8203;</tspan></text>
<text transform="translate(346.4 171.6) rotate(-90)" font-size="8.8" text-anchor="middle" font-weight="normal" fill="#1a1a1a" letter-spacing="0.38">(% of input)</text>
</g>
<g id="panelE">
<text x="19.3" y="280.3" font-size="11" text-anchor="start" font-weight="bold" fill="#000" >E</text>
<rect x="67.5" y="276.5" width="174" height="136" fill="none" stroke="#5e5e5e" stroke-width="1"/>
<line x1="64.9" y1="412.5" x2="67.5" y2="412.5" stroke="#4c4c4c" stroke-width="0.8" />
<text x="61.6" y="416" font-size="9.5" text-anchor="end" font-weight="normal" fill="#111" >0</text>
<line x1="64.9" y1="378.5" x2="67.5" y2="378.5" stroke="#4c4c4c" stroke-width="0.8" />
<text x="61.6" y="382" font-size="9.5" text-anchor="end" font-weight="normal" fill="#111" >25</text>
<line x1="64.9" y1="344.5" x2="67.5" y2="344.5" stroke="#4c4c4c" stroke-width="0.8" />
<text x="61.6" y="348" font-size="9.5" text-anchor="end" font-weight="normal" fill="#111" >50</text>
<line x1="64.9" y1="310.5" x2="67.5" y2="310.5" stroke="#4c4c4c" stroke-width="0.8" />
<text x="61.6" y="314" font-size="9.5" text-anchor="end" font-weight="normal" fill="#111" >75</text>
<line x1="64.9" y1="276.5" x2="67.5" y2="276.5" stroke="#4c4c4c" stroke-width="0.8" />
<text x="61.6" y="280" font-size="9.5" text-anchor="end" font-weight="normal" fill="#111" >100</text>
<line x1="67.5" y1="412.5" x2="67.5" y2="415.1" stroke="#4c4c4c" stroke-width="0.8" />
<text x="67.5" y="428.4" font-size="9.5" text-anchor="middle" font-weight="normal" fill="#111" >0</text>
<line x1="102.3" y1="412.5" x2="102.3" y2="415.1" stroke="#4c4c4c" stroke-width="0.8" />
<text x="102.3" y="428.4" font-size="9.5" text-anchor="middle" font-weight="normal" fill="#111" >10</text>
<line x1="137.1" y1="412.5" x2="137.1" y2="415.1" stroke="#4c4c4c" stroke-width="0.8" />
<text x="137.1" y="428.4" font-size="9.5" text-anchor="middle" font-weight="normal" fill="#111" >20</text>
<line x1="171.9" y1="412.5" x2="171.9" y2="415.1" stroke="#4c4c4c" stroke-width="0.8" />
<text x="171.9" y="428.4" font-size="9.5" text-anchor="middle" font-weight="normal" fill="#111" >30</text>
<line x1="206.7" y1="412.5" x2="206.7" y2="415.1" stroke="#4c4c4c" stroke-width="0.8" />
<text x="206.7" y="428.4" font-size="9.5" text-anchor="middle" font-weight="normal" fill="#111" >40</text>
<line x1="241.5" y1="412.5" x2="241.5" y2="415.1" stroke="#4c4c4c" stroke-width="0.8" />
<text x="241.5" y="428.4" font-size="9.5" text-anchor="middle" font-weight="normal" fill="#111" >50</text>
<text transform="translate(43.4 347.6) rotate(-90)" font-size="10.3" text-anchor="middle" font-weight="normal" fill="#111" >% Annexin V Positive Cells</text>
<text x="153.6" y="441.6" font-size="9.8" text-anchor="middle" font-weight="normal" fill="#111" ><tspan font-family="Liberation Serif" font-size="10.4">&#916;</tspan><tspan font-size="6.8" dy="-4.2">12</tspan><tspan dy="4.2">&#8203;</tspan>-PGJ<tspan font-size="6.6" dy="2">3</tspan><tspan dy="-2">&#8203;</tspan> (nM)</text>
<polyline points="67.5,412.5 69.24,410.16 70.98,407.84 72.72,405.55 74.46,403.28 76.2,401.04 77.94,398.83 79.68,396.64 81.42,394.48 83.16,392.34 84.9,390.23 86.64,388.15 88.38,386.1 90.12,384.07 91.86,382.06 93.6,380.08 95.34,378.13 97.08,376.21 98.82,374.31 100.56,372.43 102.3,370.59 104.04,368.77 105.78,366.97 107.52,365.2 109.26,363.46 111,361.75 112.74,360.06 114.48,358.39 116.22,356.76 117.96,355.15 119.7,353.56 121.44,352 123.18,350.47 124.92,348.96 126.66,347.48 128.4,346.03 130.14,344.6 131.88,343.2 133.62,341.82 135.36,340.48 137.1,339.15 138.84,337.86 140.58,336.59 142.32,335.34 144.06,334.12 145.8,332.93 147.54,331.77 149.28,330.63 151.02,329.51 152.76,328.42 154.5,327.36 156.24,326.33 157.98,325.32 159.72,324.34 161.46,323.38 163.2,322.45 164.94,321.55 166.68,320.67 168.42,319.82 170.16,318.99 171.9,318.19 173.64,317.42 175.38,316.68 177.12,315.95 178.86,315.26 180.6,314.59 182.34,313.95 184.08,313.34 185.82,312.75 187.56,312.18 189.3,311.65 191.04,311.13 192.78,310.65 194.52,310.19 196.26,309.76 198,309.35 199.74,308.97 201.48,308.62 203.22,308.29 204.96,307.99 206.7,307.71 208.44,307.47 210.18,307.24 211.92,307.05 213.66,306.88 215.4,306.73 217.14,306.61 218.88,306.52 220.62,306.46 222.36,306.42 224.1,306.4 225.84,306.42 227.58,306.46 229.32,306.52 231.06,306.61 232.8,306.73 234.54,306.87 236.28,307.04 238.02,307.24 239.76,307.46 241.5,307.71" fill="none" stroke="#0a0a0a" stroke-width="1.25" stroke-linejoin="round" />
<circle cx="67.5" cy="412.5" r="2.6" fill="#000"/>
<circle cx="84.9" cy="379.86" r="2.6" fill="#000"/>
<circle cx="102.3" cy="366.26" r="2.6" fill="#000"/>
<circle cx="154.5" cy="332.26" r="2.6" fill="#000"/>
<circle cx="241.5" cy="307.78" r="2.6" fill="#000"/>
</g>
<g id="panelF">
<text x="267.4" y="280.4" font-size="11" text-anchor="start" font-weight="bold" fill="#000" >F</text>
<rect x="306.2" y="276.5" width="209" height="146" fill="none" stroke="#5a5a5a" stroke-width="0.9"/>
<line x1="306.2" y1="422.5" x2="515.2" y2="422.5" stroke="#222" stroke-width="1" />
<line x1="303.8" y1="422.5" x2="306.2" y2="422.5" stroke="#444" stroke-width="0.8" />
<text x="299.6" y="425.9" font-size="9.2" text-anchor="end" font-weight="normal" fill="#111" >0</text>
<line x1="303.8" y1="386" x2="306.2" y2="386" stroke="#444" stroke-width="0.8" />
<text x="299.6" y="389.4" font-size="9.2" text-anchor="end" font-weight="normal" fill="#111" >20</text>
<line x1="303.8" y1="349.5" x2="306.2" y2="349.5" stroke="#444" stroke-width="0.8" />
<text x="299.6" y="352.9" font-size="9.2" text-anchor="end" font-weight="normal" fill="#111" >40</text>
<line x1="303.8" y1="313" x2="306.2" y2="313" stroke="#444" stroke-width="0.8" />
<text x="299.6" y="316.4" font-size="9.2" text-anchor="end" font-weight="normal" fill="#111" >60</text>
<line x1="303.8" y1="276.5" x2="306.2" y2="276.5" stroke="#444" stroke-width="0.8" />
<text x="299.6" y="279.9" font-size="9.2" text-anchor="end" font-weight="normal" fill="#111" >80</text>
<rect x="325" y="409" width="29.4" height="13.5" fill="#000"/>
<line x1="339.7" y1="409" x2="339.7" y2="408.26" stroke="#222" stroke-width="0.8" />
<line x1="337.3" y1="408.26" x2="342.1" y2="408.26" stroke="#222" stroke-width="0.8" />
<rect x="372.6" y="399.5" width="28.8" height="23" fill="#000"/>
<line x1="387" y1="399.5" x2="387" y2="398.77" stroke="#222" stroke-width="0.8" />
<line x1="384.6" y1="398.77" x2="389.4" y2="398.77" stroke="#222" stroke-width="0.8" />
<rect x="420" y="296.03" width="29.3" height="126.47" fill="#000"/>
<line x1="434.65" y1="296.03" x2="434.65" y2="290.55" stroke="#222" stroke-width="0.8" />
<line x1="432.25" y1="290.55" x2="437.05" y2="290.55" stroke="#222" stroke-width="0.8" />
<rect x="467.4" y="304.24" width="29.4" height="118.26" fill="#000"/>
<line x1="482.1" y1="304.24" x2="482.1" y2="303.14" stroke="#222" stroke-width="0.8" />
<line x1="479.7" y1="303.14" x2="484.5" y2="303.14" stroke="#222" stroke-width="0.8" />
<text x="434.6" y="292.6" font-size="13" text-anchor="middle" font-weight="normal" fill="#111" >*</text>
<text x="482.4" y="303.9" font-size="13" text-anchor="middle" font-weight="normal" fill="#111" >*</text>
<text x="339" y="435.7" font-size="10.1" text-anchor="middle" font-weight="bold" fill="#000" >EPA</text>
<text x="385" y="435.7" font-size="10.1" text-anchor="middle" font-weight="bold" fill="#000" >PGJ<tspan font-size="6.8" dy="2">3</tspan><tspan dy="-2">&#8203;</tspan></text>
<text x="430.4" y="435.7" font-size="10.1" text-anchor="middle" font-weight="bold" fill="#000" ><tspan font-family="Liberation Serif" font-weight="normal" font-size="10.8">&#916;</tspan><tspan font-size="6.8" dy="-4.4">12</tspan><tspan dy="4.4">&#8203;</tspan>-PGJ<tspan font-size="6.8" dy="2">3</tspan><tspan dy="-2">&#8203;</tspan></text>
<text x="480.9" y="435.7" font-size="10.1" text-anchor="middle" font-weight="bold" fill="#000" >15d-PGJ<tspan font-size="6.8" dy="2">3</tspan><tspan dy="-2">&#8203;</tspan></text>
<text transform="translate(285.6 349) rotate(-90)" font-size="10.3" text-anchor="middle" font-weight="normal" fill="#111" >% Annexin V positive cells</text>
</g>
</g>
</svg></body></html>
